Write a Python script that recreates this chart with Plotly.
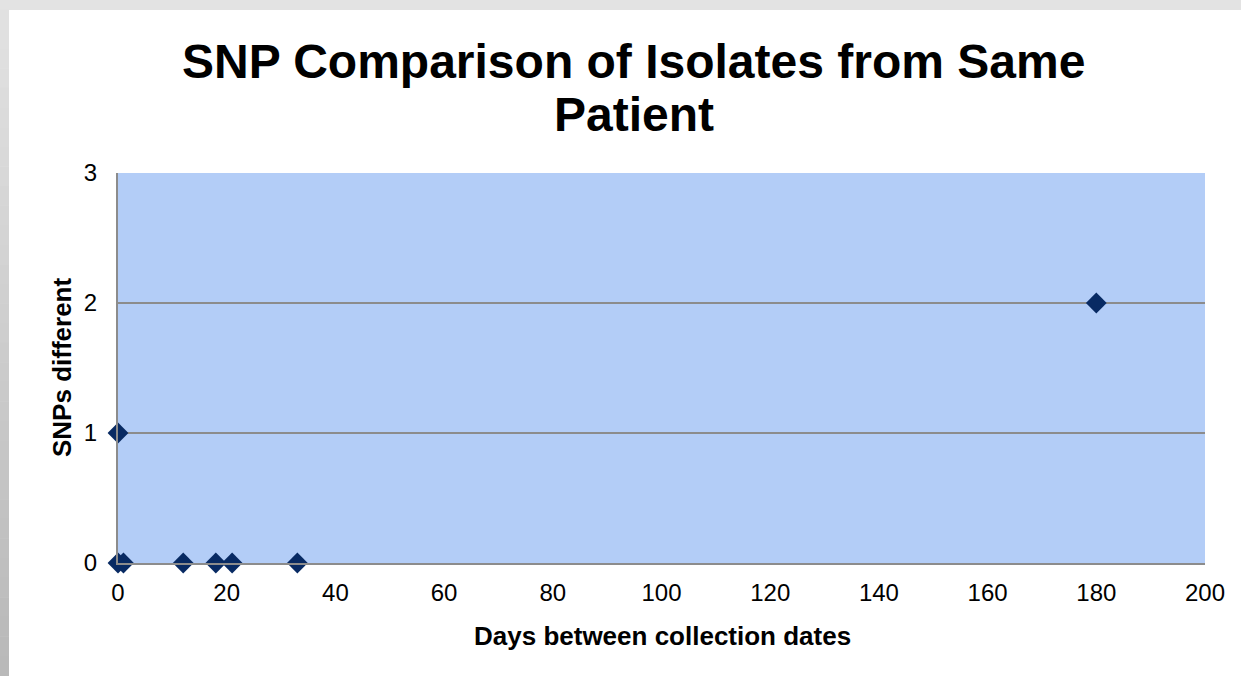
import plotly.graph_objects as go

days = [0, 0, 1, 12, 18, 21, 33, 180]
snps = [1, 0, 0, 0, 0, 0, 0, 2]
x_ticks = [0, 20, 40, 60, 80, 100, 120, 140, 160, 180, 200]
y_ticks = [0, 1, 2, 3]
title_lines = ["SNP Comparison of Isolates from Same", "Patient"]
x_title = "Days between collection dates"
y_title = "SNPs different"

W, H = 1241, 676
L, R, T, B = 118, 1205, 173, 563
pw, ph = R - L, B - T

def px(x):
    return (x - L) / pw

def py(y):
    return (B - y) / ph

fig = go.Figure()
fig.add_trace(go.Scatter(
    x=days, y=snps, mode="markers",
    marker=dict(symbol="diamond", size=16, color="#082a63", line=dict(width=0)),
    cliponaxis=False, showlegend=False, hoverinfo="x+y",
))

shapes = []
shapes.append(dict(type="rect", xref="paper", yref="paper", x0=px(0), x1=px(W), y0=py(10), y1=py(0),
                   fillcolor="#e3e3e3", line=dict(width=0), layer="below"))
n = 34
for i in range(n):
    y0p = 10 + (H - 10) * i / n
    y1p = 10 + (H - 10) * (i + 1) / n
    f = (i + 0.5) / n
    g = int(round(0xe2 + (0xb8 - 0xe2) * f))
    shapes.append(dict(type="rect", xref="paper", yref="paper", x0=px(0), x1=px(9),
                       y0=py(y1p), y1=py(y0p - 0.5),
                       fillcolor=f"rgb({g},{g},{g})", line=dict(width=0), layer="below"))

annotations = [
    dict(text=f"<b>{title_lines[0]}</b>", x=px(633), y=py(62), xref="paper", yref="paper",
         xanchor="center", yanchor="middle", showarrow=False, font=dict(size=48, color="black")),
    dict(text=f"<b>{title_lines[1]}</b>", x=px(634), y=py(114), xref="paper", yref="paper",
         xanchor="center", yanchor="middle", showarrow=False, font=dict(size=48, color="black")),
    dict(text=f"<b>{x_title}</b>", x=px(662), y=py(636), xref="paper", yref="paper",
         xanchor="center", yanchor="middle", showarrow=False, font=dict(size=26, color="black")),
    dict(text=f"<b>{y_title}</b>", x=px(62), y=py(368), xref="paper", yref="paper",
         xanchor="center", yanchor="middle", showarrow=False, textangle=-90,
         font=dict(size=26, color="black")),
]

fig.update_layout(
    width=W, height=H,
    margin=dict(l=L, r=W - R, t=T, b=H - B, pad=0),
    paper_bgcolor="white", plot_bgcolor="#b3cdf7",
    font=dict(family="Liberation Sans, Arial, sans-serif", color="black"),
    shapes=shapes, annotations=annotations,
    xaxis=dict(range=[0, 200], tickvals=x_ticks, ticks="outside", ticklen=7,
               tickcolor="rgba(0,0,0,0)", showgrid=False,
               showline=True, linecolor="#8c8c8c", linewidth=2, zeroline=False,
               tickfont=dict(size=24)),
    yaxis=dict(range=[0, 3], tickvals=y_ticks, ticks="outside", ticklen=14,
               tickcolor="rgba(0,0,0,0)", showgrid=True, gridcolor="#8c8c8c", gridwidth=2,
               showline=True, linecolor="#8c8c8c", linewidth=2, zeroline=False,
               tickfont=dict(size=24)),
)

fig.write_html("out.html", config={"displayModeBar": False},
               post_script="document.body.style.margin='0';")
